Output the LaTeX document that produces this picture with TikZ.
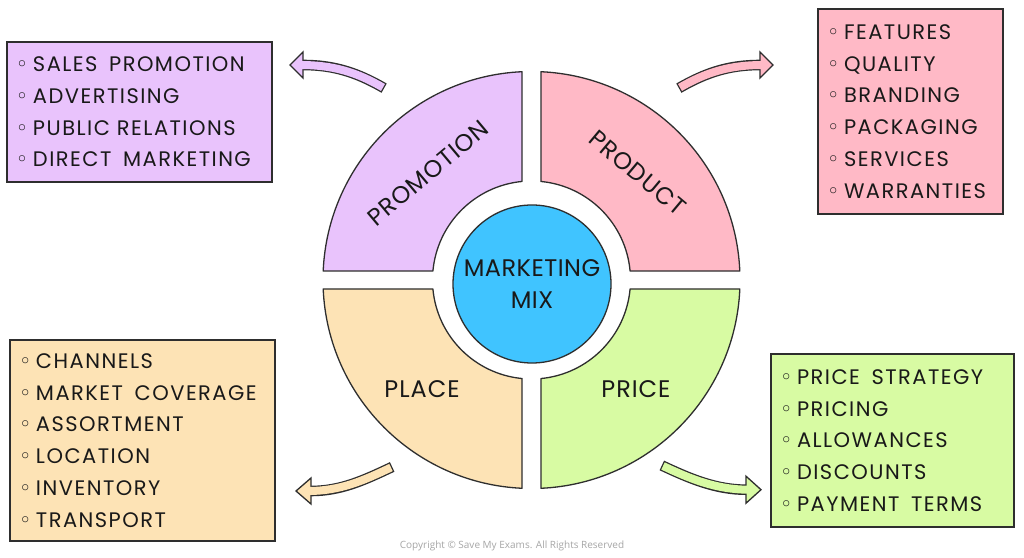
\documentclass[tikz,border=0pt]{standalone}
\usepackage{fontspec}
\setmainfont{Poppins}
\newfontfamily\symfont{DejaVu Sans}
\newfontfamily\copyfont{Open Sans}
\usetikzlibrary{calc}
\definecolor{edge}{HTML}{2E2E2E}
\definecolor{promo}{HTML}{E9C3FC}
\definecolor{prod}{HTML}{FFB9C6}
\definecolor{plac}{HTML}{FDE3B5}
\definecolor{pric}{HTML}{D8FBA3}
\definecolor{mixblue}{HTML}{40C4FF}
\newcommand\bul{\makebox[17pt][l]{\symfont ◦}}
\newcommand\ws{\hspace{0.22em} }
\tikzset{
  quad/.style={draw=edge, line width=1.3pt, line join=round},
  listbox/.style={draw=edge, line width=1.3pt, rectangle, inner xsep=9pt, inner ysep=0pt,
     align=left, font=\fontsize{21}{31.7}\selectfont\addfontfeatures{LetterSpace=7}, text=black!90},
  qlabel/.style={font=\fontsize{24}{28}\selectfont\addfontfeatures{LetterSpace=4}, text=black!90, inner sep=0pt},
  shaftout/.style={line width=10.6pt, draw=edge, shorten <=-1.3pt},
  shaftin/.style={line width=8pt, shorten >=-3pt},
  headtip/.style={draw=edge, line width=1.3pt, line join=miter}
}
\begin{document}
\begin{tikzpicture}[x=1pt,y=1pt]
\fill[white] (0,0) rectangle (1024,557);
\useasboundingbox (0,0) rectangle (1024,557);
\coordinate (C) at (531.5,277);
% quadrants
\path[quad, fill=prod] ($(C)+(9.5,98.54)$) -- ($(C)+(9.5,208.28)$) arc[start angle=87.39, end angle=2.47, radius=208.5pt] -- ($(C)+(98.59,9)$) arc[start angle=5.22, end angle=84.49, radius=99pt] -- cycle;
\path[quad, fill=promo] ($(C)+(-98.59,9)$) -- ($(C)+(-208.31,9)$) arc[start angle=177.53, end angle=92.61, radius=208.5pt] -- ($(C)+(-9.5,98.54)$) arc[start angle=95.51, end angle=174.78, radius=99pt] -- cycle;
\path[quad, fill=plac] ($(C)+(-9.5,-98.54)$) -- ($(C)+(-9.5,-208.28)$) arc[start angle=267.39, end angle=182.47, radius=208.5pt] -- ($(C)+(-98.59,-9)$) arc[start angle=185.22, end angle=264.49, radius=99pt] -- cycle;
\path[quad, fill=pric] ($(C)+(98.59,-9)$) -- ($(C)+(208.31,-9)$) arc[start angle=357.53, end angle=272.61, radius=208.5pt] -- ($(C)+(9.5,-98.54)$) arc[start angle=275.51, end angle=354.78, radius=99pt] -- cycle;
% centre
\node[circle, draw=edge, fill=mixblue, line width=1.3pt, minimum size=158pt, inner sep=0pt,
  align=center, font=\fontsize{24}{32}\selectfont\addfontfeatures{LetterSpace=2}, text=black!90] (mix) at (532,273) {MARKETING\\MIX};
% quadrant labels
\node[qlabel, rotate=40] (promoL) at (428,384) {PROMOTION};
\node[qlabel, rotate=-40] (prodL) at (638,384) {PRODUCT};
\node[qlabel, anchor=base] (placL) at (422,160) {PLACE};
\node[qlabel, anchor=base] (pricL) at (636,160) {PRICE};
% boxes
\node[listbox, fill=promo, minimum width=265pt, minimum height=140pt, text width=247pt] (promoB) at (139.5,445)
 {\bul SALES\ws PROMOTION\\\bul ADVERTISING\\\bul PUBLIC RELATIONS\\\bul DIRECT\ws MARKETING};
\node[listbox, fill=prod, minimum width=185pt, minimum height=205pt, text width=167pt] (prodB) at (910.5,445.5)
 {\bul FEATURES\\\bul QUALITY\\\bul BRANDING\\\bul PACKAGING\\\bul SERVICES\\\bul WARRANTIES};
\node[listbox, fill=plac, minimum width=265pt, minimum height=201pt, text width=247pt] (placB) at (142.5,116.5)
 {\bul CHANNELS\\\bul MARKET\ws COVERAGE\\\bul ASSORTMENT\\\bul LOCATION\\\bul INVENTORY\\\bul TRANSPORT};
\node[listbox, fill=pric, minimum width=243pt, minimum height=173pt, text width=225pt] (pricB) at (892.5,116.5)
 {\bul PRICE\ws STRATEGY\\\bul PRICING\\\bul ALLOWANCES\\\bul DISCOUNTS\\\bul PAYMENT\ws TERMS};
% arrows
% promotion
\coordinate (aT1) at (383,469.5); \coordinate (aB1) at (303,492); \coordinate (aP1) at (290,492);
\draw[shaftout] (aT1) .. controls (357,484.5) and (334,492) .. (aB1);
\path[headtip, fill=promo] (aP1) -- (303,505) -- (303,479) -- cycle;
\draw[shaftin, draw=promo] (aT1) .. controls (357,484.5) and (334,492) .. (aB1);
% product
\coordinate (aT2) at (680,469.5); \coordinate (aB2) at (760,492); \coordinate (aP2) at (773,492);
\draw[shaftout] (aT2) .. controls (706,484.5) and (729,492) .. (aB2);
\path[headtip, fill=prod] (aP2) -- (760,505) -- (760,479) -- cycle;
\draw[shaftin, draw=prod] (aT2) .. controls (706,484.5) and (729,492) .. (aB2);
% place
\coordinate (aT3) at (391,89.5); \coordinate (aB3) at (311,66); \coordinate (aP3) at (296,66);
\draw[shaftout] (aT3) .. controls (364,76.8) and (341,66) .. (aB3);
\path[headtip, fill=plac] (aP3) -- (311,79) -- (311,53) -- cycle;
\draw[shaftin, draw=plac] (aT3) .. controls (364,76.8) and (341,66) .. (aB3);
% price
\coordinate (aT4) at (663,91); \coordinate (aB4) at (746,67.3); \coordinate (aP4) at (761,67.3);
\draw[shaftout] (aT4) .. controls (690,78.3) and (716,67.3) .. (aB4);
\path[headtip, fill=pric] (aP4) -- (746,80.8) -- (746,53.8) -- cycle;
\draw[shaftin, draw=pric] (aT4) .. controls (690,78.3) and (716,67.3) .. (aB4);
% copyright
\node[font=\copyfont\fontsize{10}{12}\selectfont, text=black!35, anchor=base, inner sep=0pt] (copy) at (512,9)
 {Copyright © Save My Exams. All Rights Reserved};
\end{tikzpicture}
\end{document}
